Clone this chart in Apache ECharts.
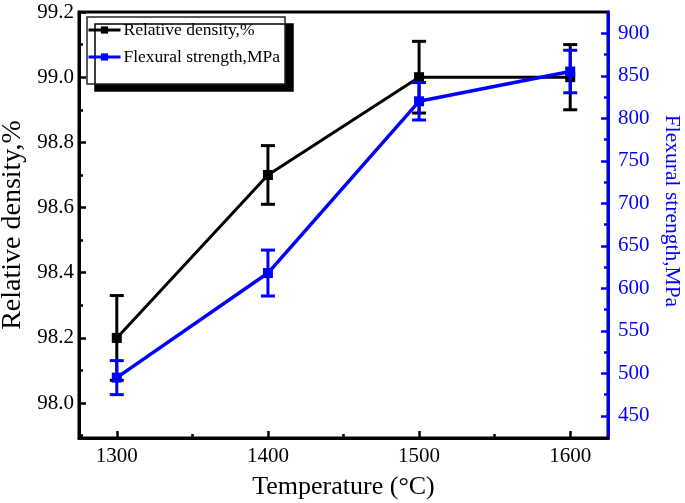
<!DOCTYPE html>
<html><head><meta charset="utf-8">
<script src="https://cdn.jsdelivr.net/npm/echarts@6/dist/echarts.min.js"></script>
<style>html,body{margin:0;padding:0;background:#fff}#c{width:685px;height:503px}</style>
</head><body><div id="c"></div>
<script>
const temperatures = [1300, 1400, 1500, 1600];
const density = [98.2, 98.7, 99.0, 99.0];
const densityErr = [0.13, 0.09, 0.11, 0.10];
const strength = [495, 618, 820, 855];
const strengthErr = [20, 27, 22, 25];
const xTicks = [1300, 1400, 1500, 1600];
const xMinor = [1350, 1450, 1550];
const leftTicks = [98.0, 98.2, 98.4, 98.6, 98.8, 99.0, 99.2];
const leftMinor = [97.9, 98.1, 98.3, 98.5, 98.7, 98.9, 99.1];
const rightTicks = [450, 500, 550, 600, 650, 700, 750, 800, 850, 900];
const rightMinor = [475, 525, 575, 625, 675, 725, 775, 825, 875];

const FONT = 'Liberation Serif';
const BLUE = '#0000ff';
const X_MIN = 1275, X_MAX = 1625, L_MIN = 97.893, L_MAX = 99.2, R_MIN = 424, R_MAX = 925;

function errRender(vals, errs, color) {
  return function (params, api) {
    const i = params.dataIndex;
    const x = api.value(0);
    const top = api.coord([x, vals[i] + errs[i]]);
    const bot = api.coord([x, vals[i] - errs[i]]);
    const hw = 7;
    const st = { stroke: color, lineWidth: 3 };
    return {
      type: 'group',
      children: [
        { type: 'line', shape: { x1: top[0], y1: top[1], x2: bot[0], y2: bot[1] }, style: st },
        { type: 'line', shape: { x1: top[0] - hw, y1: top[1], x2: top[0] + hw, y2: top[1] }, style: st },
        { type: 'line', shape: { x1: bot[0] - hw, y1: bot[1], x2: bot[0] + hw, y2: bot[1] }, style: st }
      ]
    };
  };
}

const chart = echarts.init(document.getElementById('c'));
const tickLabel = { fontFamily: FONT, fontSize: 21, color: '#000' };
chart.setOption({
  animation: false,
  grid: { left: 79, right: 77, top: 12, bottom: 65, outerBoundsMode: 'none', containLabel: false,
          show: true, borderColor: '#000', borderWidth: 3, backgroundColor: 'transparent' },
  legend: {
    left: 87, top: 17, orient: 'vertical',
    data: ['Relative density,%', 'Flexural strength,MPa'],
    itemWidth: 32, itemHeight: 9, itemGap: 9,
    padding: [4, 5, 18, 0],
    backgroundColor: '#fff', borderColor: '#222', borderWidth: 1.5,
    shadowColor: '#000', shadowBlur: 0, shadowOffsetX: 8, shadowOffsetY: 7,
    lineStyle: { width: 3 },
    textStyle: { fontFamily: FONT, fontSize: 17.5, color: '#000', padding: [0, 0, 0, -2] }
  },
  xAxis: [
    {
      type: 'value', min: X_MIN, max: X_MAX,
      name: 'Temperature (°C)', nameLocation: 'middle', nameGap: 36,
      nameTextStyle: { fontFamily: FONT, fontSize: 26, color: '#000' },
      axisLine: { lineStyle: { color: '#000', width: 3 } },
      axisTick: { inside: true, length: 7, lineStyle: { width: 2.5, color: '#000' }, customValues: xTicks },
      axisLabel: Object.assign({ customValues: xTicks, margin: 8, formatter: v => String(v) }, tickLabel),
      splitLine: { show: false }
    },
    {
      type: 'value', min: X_MIN, max: X_MAX, position: 'bottom',
      axisLine: { show: false },
      axisTick: { inside: true, length: 4, lineStyle: { width: 2.5, color: '#000' }, customValues: xMinor },
      axisLabel: { show: false }, splitLine: { show: false }
    }
  ],
  yAxis: [
    {
      type: 'value', min: L_MIN, max: L_MAX, position: 'left',
      name: 'Relative density,%', nameLocation: 'middle', nameGap: 48,
      nameTextStyle: { fontFamily: FONT, fontSize: 28, color: '#000' },
      axisLine: { show: true, lineStyle: { color: '#000', width: 3 } },
      axisTick: { show: true, inside: true, length: 7, lineStyle: { width: 2.5, color: '#000' }, customValues: leftTicks },
      axisLabel: Object.assign({ customValues: leftTicks, margin: 5, formatter: v => v.toFixed(1) }, tickLabel),
      splitLine: { show: false }
    },
    {
      type: 'value', min: R_MIN, max: R_MAX, position: 'right',
      name: 'Flexural strength,MPa', nameLocation: 'middle', nameGap: 48, nameRotate: -90,
      nameTextStyle: { fontFamily: FONT, fontSize: 21.5, color: BLUE, padding: [0, 28, 0, 0] },
      axisLine: { show: true, lineStyle: { color: BLUE, width: 3 } },
      axisTick: { show: true, inside: true, length: 7, lineStyle: { width: 2.5, color: BLUE }, customValues: rightTicks },
      axisLabel: Object.assign({}, tickLabel, { color: BLUE, customValues: rightTicks, margin: 10 }),
      splitLine: { show: false }
    },
    {
      type: 'value', min: L_MIN, max: L_MAX, position: 'left',
      axisLine: { show: false },
      axisTick: { show: true, inside: true, length: 4, lineStyle: { width: 2.5, color: '#000' }, customValues: leftMinor },
      axisLabel: { show: false }, splitLine: { show: false }
    },
    {
      type: 'value', min: R_MIN, max: R_MAX, position: 'right',
      axisLine: { show: false },
      axisTick: { show: true, inside: true, length: 4, lineStyle: { width: 2.5, color: BLUE }, customValues: rightMinor },
      axisLabel: { show: false }, splitLine: { show: false }
    }
  ],
  series: [
    {
      name: 'densityErr', type: 'custom', yAxisIndex: 0, z: 3,
      renderItem: errRender(density, densityErr, '#000'),
      data: temperatures.map((t, i) => [t, density[i]])
    },
    {
      name: 'Relative density,%', type: 'line', yAxisIndex: 0, z: 4,
      data: temperatures.map((t, i) => [t, density[i]]),
      symbol: 'rect', symbolSize: 10,
      lineStyle: { color: '#000', width: 3 },
      itemStyle: { color: '#000' }
    },
    {
      name: 'strengthErr', type: 'custom', yAxisIndex: 1, z: 5,
      renderItem: errRender(strength, strengthErr, BLUE),
      data: temperatures.map((t, i) => [t, strength[i]])
    },
    {
      name: 'Flexural strength,MPa', type: 'line', yAxisIndex: 1, z: 6,
      data: temperatures.map((t, i) => [t, strength[i]]),
      symbol: 'rect', symbolSize: 10,
      lineStyle: { color: BLUE, width: 3.5 },
      itemStyle: { color: BLUE }
    }
  ]
});
</script>
</body></html>
